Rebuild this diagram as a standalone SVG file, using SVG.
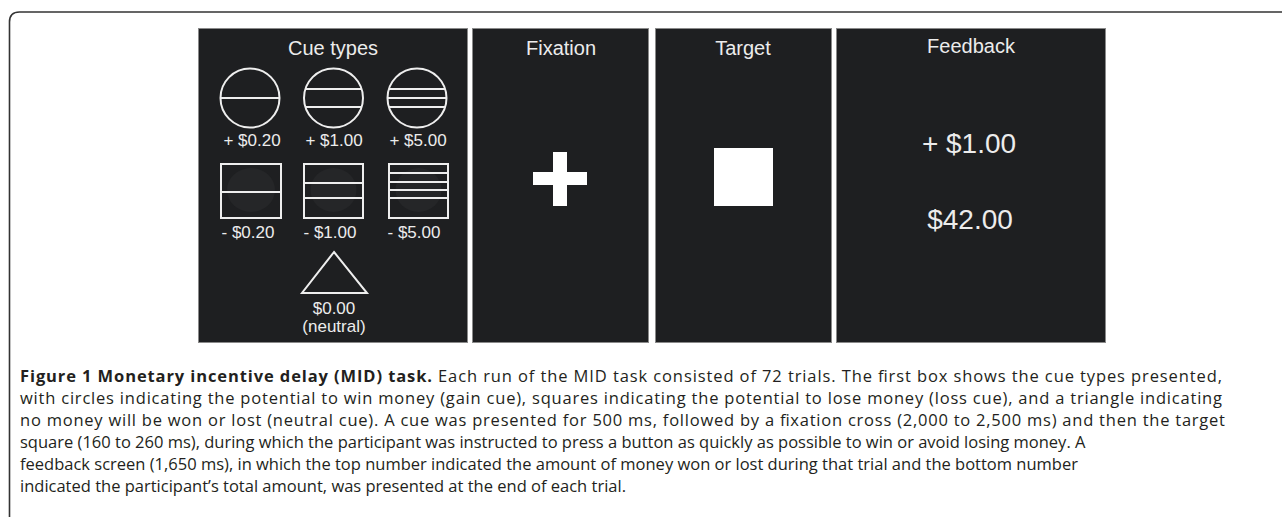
<svg xmlns="http://www.w3.org/2000/svg" width="1282" height="517" viewBox="0 0 1282 517">
<style>
.panel{fill:#1e1f21;stroke:#8a8a8a;stroke-width:1}
.title{font-family:"Liberation Sans",Arial,sans-serif;font-size:20px;fill:#ececec;text-anchor:middle}
.lbl{font-family:"Liberation Sans",Arial,sans-serif;font-size:17px;fill:#ececec;text-anchor:middle}
.big{font-family:"Liberation Sans",Arial,sans-serif;font-size:28px;fill:#ececec;text-anchor:middle}
.cue{fill:none;stroke:#eeeeee;stroke-width:2}
.blob{fill:#252628}
.cap{font-family:"Open Sans","Noto Sans",sans-serif;font-size:16.5px;fill:#231f20}
.b{font-weight:bold}
</style>
<path d="M9.5,517 V22 Q9.5,12 19.5,12 H1282" fill="none" stroke="#333" stroke-width="1.6"/>
<g id="cue-types">
<rect class="panel" x="198.5" y="28.5" width="269" height="314"/>
<text class="title" x="333" y="55">Cue types</text>
<g id="gain-020"><circle class="cue" cx="250" cy="98" r="29.5"/><line class="cue" x1="220.5" y1="98" x2="279.5" y2="98"/></g>
<g id="gain-100"><circle class="cue" cx="333.5" cy="98" r="29.5"/><line class="cue" x1="305.4" y1="89" x2="361.6" y2="89"/><line class="cue" x1="305.4" y1="107" x2="361.6" y2="107"/></g>
<g id="gain-500"><circle class="cue" cx="417" cy="98" r="29.5"/><line class="cue" x1="388.9" y1="89" x2="445.1" y2="89"/><line class="cue" x1="387.5" y1="98" x2="446.5" y2="98"/><line class="cue" x1="388.9" y1="107" x2="445.1" y2="107"/></g>
<text class="lbl" x="252" y="146">+ $0.20</text>
<text class="lbl" x="334" y="146">+ $1.00</text>
<text class="lbl" x="418" y="146">+ $5.00</text>
<g id="loss-020"><ellipse class="blob" cx="251" cy="190" rx="24" ry="22"/><rect class="cue" x="221" y="164" width="60" height="54"/><line class="cue" x1="221" y1="192" x2="281" y2="192"/></g>
<g id="loss-100"><ellipse class="blob" cx="333.5" cy="190" rx="23" ry="22"/><rect class="cue" x="304" y="164" width="59" height="54"/><line class="cue" x1="304" y1="183" x2="363" y2="183"/><line class="cue" x1="304" y1="198" x2="363" y2="198"/></g>
<g id="loss-500"><ellipse class="blob" cx="418.5" cy="190" rx="23" ry="22"/><rect class="cue" x="389" y="164" width="59" height="54"/><line class="cue" x1="389" y1="173" x2="448" y2="173"/><line class="cue" x1="389" y1="182" x2="448" y2="182"/><line class="cue" x1="389" y1="190" x2="448" y2="190"/><line class="cue" x1="389" y1="198" x2="448" y2="198"/></g>
<text class="lbl" x="248" y="238">- $0.20</text>
<text class="lbl" x="330" y="238">- $1.00</text>
<text class="lbl" x="414" y="238">- $5.00</text>
<g id="neutral"><polygon class="cue" points="334,252 367,293 302,293"/></g>
<text class="lbl" x="334" y="314">$0.00</text>
<text class="lbl" x="334" y="332">(neutral)</text>
</g>
<g id="fixation">
<rect class="panel" x="472.5" y="28.5" width="176" height="314"/>
<text class="title" x="561" y="55">Fixation</text>
<rect x="533" y="172" width="54" height="13" fill="#fff"/>
<rect x="553" y="152" width="14" height="54" fill="#fff"/>
</g>
<g id="target">
<rect class="panel" x="655.5" y="28.5" width="176" height="314"/>
<text class="title" x="743" y="55">Target</text>
<rect x="714" y="148" width="59" height="58" fill="#fff"/>
</g>
<g id="feedback">
<rect class="panel" x="836.5" y="28.5" width="269" height="314"/>
<text class="title" x="971" y="53">Feedback</text>
<text class="big" x="969" y="153">+ $1.00</text>
<text class="big" x="970" y="229">$42.00</text>
</g>
<g id="caption">
<text class="cap" x="20" y="382" textLength="1202"><tspan class="b">Figure 1 Monetary incentive delay (MID) task.</tspan> Each run of the MID task consisted of 72 trials. The first box shows the cue types presented,</text>
<text class="cap" x="20" y="404" textLength="1202">with circles indicating the potential to win money (gain cue), squares indicating the potential to lose money (loss cue), and a triangle indicating</text>
<text class="cap" x="20" y="426" textLength="1205">no money will be won or lost (neutral cue). A cue was presented for 500 ms, followed by a fixation cross (2,000 to 2,500 ms) and then the target</text>
<text class="cap" x="20" y="448">square (160 to 260 ms), during which the participant was instructed to press a button as quickly as possible to win or avoid losing money. A</text>
<text class="cap" x="20" y="470">feedback screen (1,650 ms), in which the top number indicated the amount of money won or lost during that trial and the bottom number</text>
<text class="cap" x="20" y="492">indicated the participant’s total amount, was presented at the end of each trial.</text>
</g>
</svg>
